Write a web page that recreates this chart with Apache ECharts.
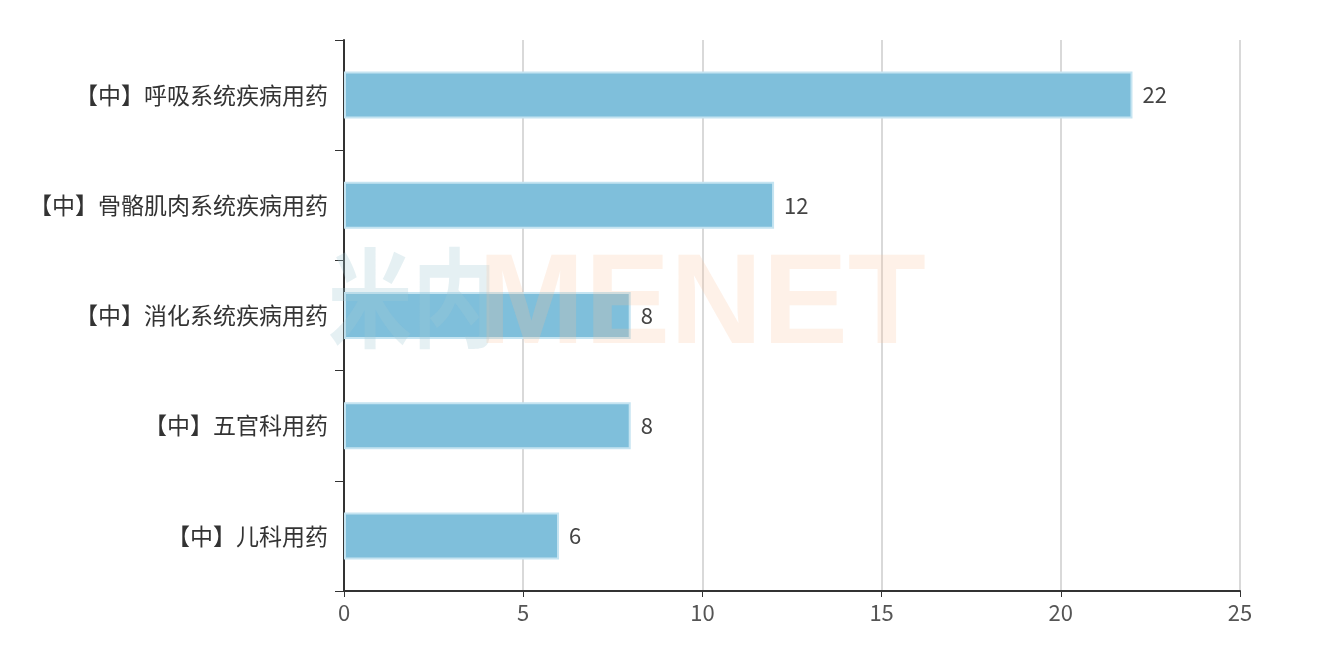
<!DOCTYPE html>
<html><head><meta charset="utf-8">
<script src="https://cdn.jsdelivr.net/npm/echarts@6/dist/echarts.min.js"></script>
<style>html,body{margin:0;padding:0;background:#fff}#c{width:1332px;height:668px}</style>
</head><body><div id="c"></div>
<script>
const categories = ['【中】儿科用药','【中】五官科用药','【中】消化系统疾病用药','【中】骨骼肌肉系统疾病用药','【中】呼吸系统疾病用药'];
const values = [6, 8, 8, 12, 22];
const xTicks = {min: 0, max: 25, interval: 5};
const font = '"Microsoft YaHei","Noto Sans CJK SC",sans-serif';
const chart = echarts.init(document.getElementById('c'));
chart.setOption({
  animation: false,
  grid: {left: 344, right: 92, top: 40, bottom: 77},
  xAxis: {
    type: 'value', min: xTicks.min, max: xTicks.max, interval: xTicks.interval,
    axisLine: {show: true, lineStyle: {color: '#333', width: 2}},
    axisTick: {show: true, length: 6, lineStyle: {color: '#333'}},
    axisLabel: {color: '#555', fontSize: 22, fontFamily: font, margin: 11},
    splitLine: {show: true, lineStyle: {color: '#ccc', width: 1.5}}
  },
  yAxis: {
    type: 'category', data: categories,
    axisLine: {show: true, lineStyle: {color: '#333', width: 2}},
    axisTick: {show: true, length: 9, lineStyle: {color: '#333'}},
    axisLabel: {color: '#333', fontSize: 23, fontFamily: font, margin: 16}
  },
  series: [{
    type: 'bar', data: values, barWidth: 47,
    itemStyle: {color: '#7fbfdb', borderColor: '#c5e4f1', borderWidth: 2},
    label: {show: true, position: 'right', distance: 10, color: '#444', fontSize: 22, fontFamily: font}
  }],
  graphic: [{
    type: 'text', x: 328, y: 298, scaleX: 0.78, z: 100, silent: true,
    style: {
      text: '米内', fontSize: 108, fontWeight: 'bold', fill: 'rgba(160,200,212,0.28)',
      fontFamily: font, verticalAlign: 'middle', align: 'left'
    }
  }, {
    type: 'text', x: 478, y: 308, z: 100, silent: true,
    style: {
      text: 'MENET', fontSize: 128, fontWeight: 'bold', fill: 'rgba(250,190,150,0.22)',
      fontFamily: '"Liberation Sans",Arial,sans-serif', verticalAlign: 'middle', align: 'left'
    }
  }]
});
</script></body></html>
